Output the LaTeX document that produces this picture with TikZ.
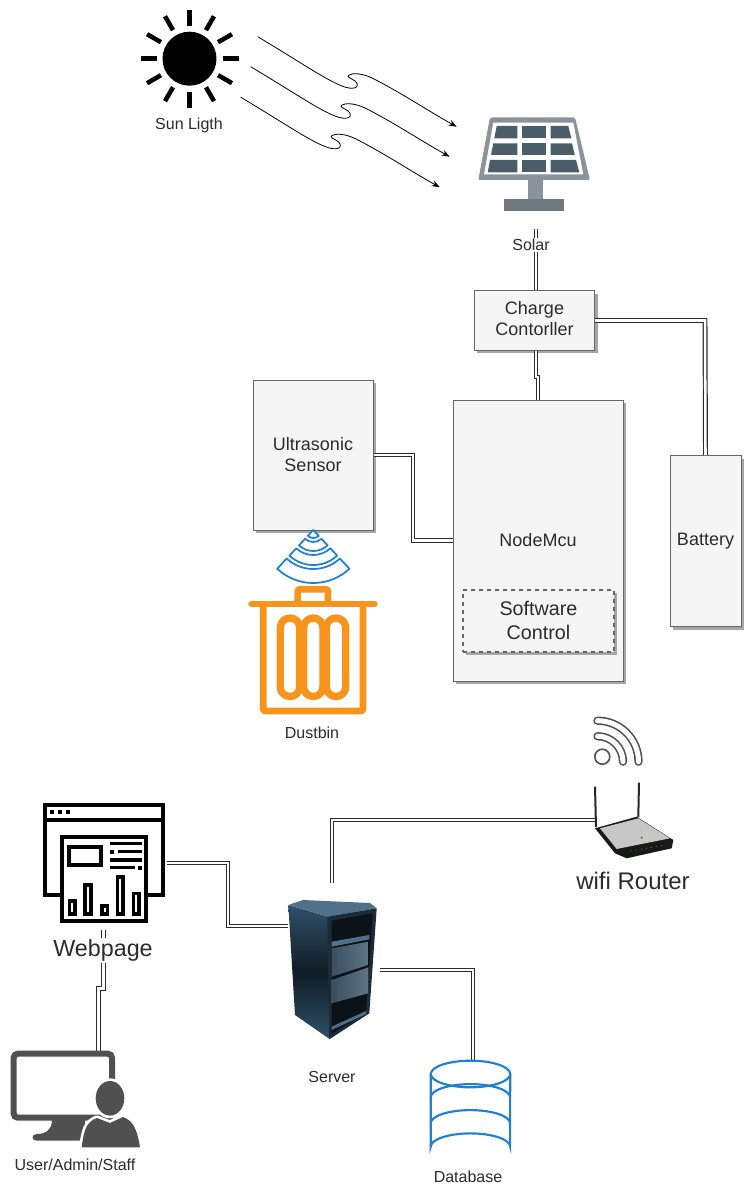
\documentclass[tikz,border=0pt]{standalone}
\usepackage{fontspec}
\setmainfont{Liberation Sans}
\usetikzlibrary{arrows.meta,shadows}
\definecolor{boxfill}{HTML}{F5F5F5}
\definecolor{boxline}{HTML}{666666}
\definecolor{txtcol}{HTML}{2B2B2B}
\definecolor{panelgray}{HTML}{8A9399}
\definecolor{panelbase}{HTML}{70797F}
\definecolor{paneldark}{HTML}{4A5E6A}
\definecolor{netblue}{HTML}{1E7FD6}
\definecolor{binorange}{HTML}{F7941E}
\definecolor{usergray}{HTML}{505050}
\definecolor{srvdark}{HTML}{101C25}
\definecolor{srvface}{HTML}{1B2C39}
\definecolor{srvlight}{HTML}{4F7088}
\definecolor{srvside}{HTML}{2F5068}
\definecolor{srvinner}{HTML}{0C1318}
\definecolor{srvdrawa}{HTML}{3A4E5E}
\definecolor{srvdrawb}{HTML}{5F7485}
\tikzset{
  wire/.style={draw=txtcol,line width=.9pt,double=white,double distance=1.9pt},
  box/.style={draw=boxline,fill=boxfill,line width=.75pt,text=txtcol,align=center,inner sep=0pt,
    drop shadow={shadow xshift=2.25pt,shadow yshift=-2.25pt,fill=black!35,opacity=1},
    font=\fontsize{13.5}{15.75}\selectfont},
  small/.style={text=txtcol,inner sep=1pt,yshift=-.75pt,font=\fontsize{12}{14}\selectfont},
  large/.style={text=txtcol,inner sep=1pt,font=\fontsize{18}{21}\selectfont},
  sunray/.style={line width=3.4pt},
  beam/.style={draw=black,line width=.6pt,-{Stealth[length=6pt,width=4.5pt]}},
  fan/.style={draw=netblue,line width=1.3pt,line join=round,fill=white},
  bin/.style={draw=binorange,line join=round},
  webline/.style={draw=black,line width=3pt},
  textbar/.style={draw=black,line width=2.5pt},
  airwave/.style={draw=usergray,line width=1.2pt,double=white,double distance=3.8pt,line cap=round},
  dbline/.style={draw=netblue,line width=1.6pt}
}
\begin{document}
\begin{tikzpicture}[x=.75pt,y=-.75pt]
\useasboundingbox (0,0) rectangle (754,1195);

\node[circle,fill=black,minimum size=40.5pt,inner sep=0pt] (sun) at (189.5,58.7) {};
\foreach \a in {0,30,...,330}
  \draw[sunray,shift={(sun.center)}] (\a:33) -- (\a:49);
\node[small] (sunlabel) at (189,124) {Sun Ligth};

\foreach \dx/\dy in {0/0,-7/30,-17/60.5}
  \draw[beam,shift={(\dx,\dy)}] (257.7,36.7) .. controls (310,68) and (338,88.3) .. (352,88.3)
    .. controls (358,88.5) and (359,84) .. (355,81)
    .. controls (351,78) and (346,77) .. (349,75)
    .. controls (352,73) and (362,73) .. (372,78)
    .. controls (400,92) and (430,112) .. (456.7,126.7);

\fill[panelgray,rounded corners=1.5pt] (490,117.3) -- (575,117.3) -- (590,180) -- (478.3,180) -- cycle;
\fill[white] (493.3,122.7) -- (573.3,122.7) -- (583.3,174.5) -- (484,174.5) -- cycle;
\foreach \ya/\yb/\la/\lb/\ra/\rb in {
  126/138.3/496.7/494.3/568.3/571.3,
  143.3/155/493.3/491/572/574.8,
  160/172.3/490/487.7/576/579.3}{
  \fill[paneldark] (\la,\ya) -- (517.3,\ya) -- (517.3,\yb) -- (\lb,\yb) -- cycle;
  \fill[paneldark] (522.3,\ya) rectangle (545.7,\yb);
  \fill[paneldark] (550.7,\ya) -- (\ra,\ya) -- (\rb,\yb) -- (550.7,\yb) -- cycle;
}
\fill[panelgray] (528.3,180) rectangle (542.7,199);
\fill[panelbase] (504,199) rectangle (564,210.7);

\node[box,text depth=3pt,minimum width=90.3pt,minimum height=44.7pt] (charge) at (534.5,320.5) {Charge\\Contorller};
\node[box,minimum width=127.5pt,minimum height=210.75pt] (nodemcu) at (538,540.5) {NodeMcu};
\node[box,text depth=1.5pt,minimum width=90pt,minimum height=112.5pt] (ultrasonic) at (313,455) {Ultrasonic\\Sensor};
\node[box,minimum width=53.25pt,minimum height=128.25pt] (battery) at (705.5,541) {Battery};
\node[box,dashed,line width=1.3pt,text depth=1.5pt,minimum width=113.25pt,minimum height=46.5pt,
  font=\fontsize{14.8}{18}\selectfont] (software) at (538.5,621) {Software\\Control};

\coordinate (solarend) at (536,229);
\coordinate (chargejog) at (536,377);
\draw[wire] (solarend) -- (solarend |- charge.north);
\node[small,fill=white] (solarlabel) at (531,244) {Solar};
\draw[wire] (charge.south -| chargejog) -- (chargejog) -- (chargejog -| nodemcu.north) -- (nodemcu.north);
\draw[wire] (charge.east) -- (705,320.5) -- (battery.north);
\draw[wire] (ultrasonic.east) -- (413,455) -- (413,540.5) -- (nodemcu.west);

\foreach \ri/\ro in {12/21,25/35,39/53}
  \draw[fan,shift={(313.3,530)}] (47:\ro) arc[start angle=47,end angle=133,radius=\ro]
    -- (133:\ri) arc[start angle=133,end angle=47,radius=\ri] -- cycle;
\draw[fan,shift={(313.3,530)}] (0,0) -- (47:8) arc[start angle=47,end angle=133,radius=8] -- cycle;

\draw[bin,line width=5pt,rounded corners=1pt,fill=white] (297.8,604) -- (297.8,589.3) -- (328,589.3) -- (328,604);
\draw[bin,line width=5pt,rounded corners=1.5pt] (263.3,604) -- (263.3,711) -- (363,711) -- (363,604);
\foreach \cx in {290,313.3,336}
  \draw[bin,line width=5.5pt,rounded corners=7.2pt] (\cx-9.7,618) rectangle (\cx+9.7,696.5);
\draw[bin,line width=5pt,line cap=round] (251.6,604) -- (374.4,604);
\node[small] (binlabel) at (312,732) {Dustbin};

\coordinate (wave) at (597.5,761.7);
\draw[airwave,shift={(wave)}] (-90:41) arc[start angle=-90,end angle=0,radius=41];
\draw[airwave,shift={(wave)}] (-90:25.5) arc[start angle=-90,end angle=0,radius=25.5];
\draw[draw=usergray,line width=1.2pt,fill=white] (602.3,756.7) circle[radius=7.5];

\coordinate (routerend) at (596,820);
\coordinate (serverup) at (332,883);
\draw[wire] (serverup) -- (serverup |- routerend) -- (routerend);
\draw[black!85,line width=1.5pt] (595,786.7) -- (596,827);
\draw[black!85,line width=1.5pt] (639,782.7) -- (638.3,817);
\fill[black!90] (595,828.3) -- (636.7,816.7) -- (673.3,840) -- (671.7,848.3) -- (626.7,858.3) -- (615,853.3) -- cycle;
\fill[black!22] (600,828.3) -- (638.3,818.3) -- (670,838.3) -- (616.7,849) -- cycle;
\fill[black!60] (641.7,837.7) circle[radius=1.2];
\foreach \i in {0,...,6}
  \fill[green!70!black] (631+\i*5.1,850.7-\i*.83) circle[radius=.6];
\node[large] (routerlabel) at (633,881) {wifi Router};

\coordinate (webright) at (167,863);
\coordinate (serverleft) at (288,926);
\coordinate (serverright) at (380,970);
\coordinate (dbtop) at (473,1061);
\draw[wire] (webright) -- (228,863) -- (228,926) -- (serverleft);
\draw[wire] (serverright) -- (dbtop |- serverright) -- (dbtop);

\coordinate (webdown) at (103.3,930);
\coordinate (userup) at (98.7,1052);
\draw[wire] (webdown) -- (103.3,988.5) -- (98.7,988.5) -- (userup);

\draw[webline] (45,804.5) rectangle (162.5,895);
\draw[webline] (45,820) -- (162.5,820);
\foreach \dotx in {51.7,60,68.3}
  \fill (\dotx-2,809.7) rectangle (\dotx+2,813.7);
\draw[webline,fill=white] (62,837) rectangle (146.3,921.3);
\draw[webline] (69.3,847) rectangle (101.3,864.7);
\foreach \ya/\xa/\xb in {843.3/110/141.7,851.7/118.3/141.7,860/110/141.7,867.7/110/135}
  \draw[textbar] (\xa,\ya) -- (\xb,\ya);
\fill (110,849.9) rectangle (114.3,853.5);
\fill (138,865.9) rectangle (141.7,869.5);
\foreach \xa/\xb/\yt in {67.7/76.7/899.3,83.3/92.7/883.3,100/109.3/904.3,115.7/125/875,131.7/140.7/891.7}
  \draw[line width=2.8pt] (\xa+1.9,\yt+1.9) rectangle (\xb-1.9,914);
\node[text=txtcol,fill=white,inner sep=1pt,font=\fontsize{17.5}{21}\selectfont] (weblabel) at (103,950.5) {Webpage};

\shade[top color=srvside,bottom color=srvside,middle color=srvdark]
  (288.3,905) -- (328.3,916.7) -- (330,1039.3) -- (295,1015) -- cycle;
\fill[srvlight] (288.3,905) -- (303,900) -- (370,903) -- (376.7,908.3) -- (328.3,916.7) -- cycle;
\fill[srvface] (327.3,916.7) -- (376.7,908.3) -- (369.3,1013.3) -- (329.3,1039.3) -- cycle;
\fill[srvinner] (331.7,920.7) -- (372.7,913.3) -- (366,1013.3) -- (331.7,1033.3) -- cycle;
\fill[srvlight] (331.7,941.7) -- (369.3,935) -- (369.3,939.3) -- (331.7,946.7) -- cycle;
\foreach \ya/\yb/\yc/\yd in {948.3/941.7/965/976.7,980/967.3/993.3/1003.3}
  \shade[left color=srvdrawa,right color=srvdrawb] (331.7,\ya) -- (368.5,\yb) -- (368,\yc) -- (331.7,\yd) -- cycle;
\fill[srvlight] (331.7,1026.7) -- (366,1011) -- (366,1014) -- (331.7,1030) -- cycle;
\node[small] (serverlabel) at (332,1076) {Server};

\draw[dbline,fill=white] (430.7,1074) -- (430.7,1146.7) arc[start angle=180,end angle=0,x radius=39.7,y radius=-13.3]
  -- (510.2,1074);
\draw[dbline] (470.5,1074) ellipse[x radius=39.7,y radius=13.3];
\foreach \yc in {1097.4,1123.4}
  \draw[dbline] (430.7,\yc) arc[start angle=180,end angle=0,x radius=39.7,y radius=-13.3];
\node[small] (dblabel) at (468,1176) {Database};

\draw[usergray,line width=4.5pt,rounded corners=3pt] (13.7,1053.7) rectangle (112,1117.7);
\fill[usergray] (52,1120) .. controls (52,1130) and (45,1134) .. (37,1134) .. controls (31,1134) and (31,1140.7) .. (37,1140.7)
  -- (85,1140.7) -- (85,1120) -- cycle;
\path[preaction={draw=white,line width=4pt,line join=round},fill=usergray]
  (81.7,1147.3) .. controls (84,1130) and (86,1122) .. (97,1118) -- (110,1123) -- (123,1117) .. controls (134,1121) and (137,1130) .. (140,1147.3) -- cycle;
\path[preaction={draw=white,line width=4pt},fill=usergray] (110,1098.3) ellipse[x radius=14.3,y radius=17.3];
\node[small] (userlabel) at (75,1164) {User/Admin/Staff};
\end{tikzpicture}
\end{document}
